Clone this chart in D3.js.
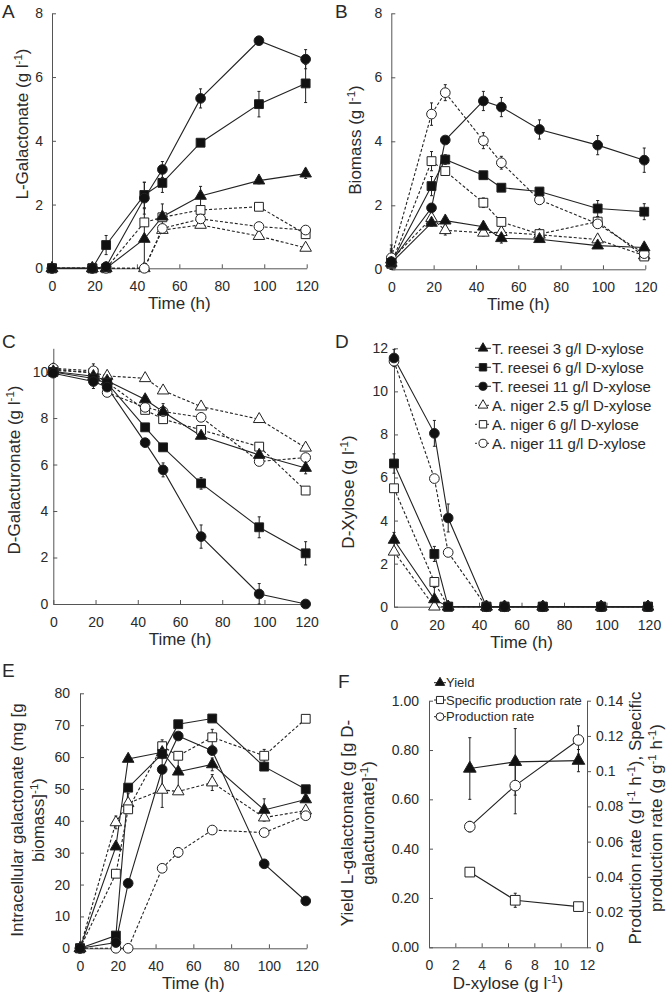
<!DOCTYPE html>
<html><head><meta charset="utf-8">
<script src="https://cdn.jsdelivr.net/npm/d3@7"></script>
<style>
body{margin:0;background:#fff}
text{font-family:"Liberation Sans",Arial,sans-serif;fill:#2a2a2a}
</style>
</head><body>
<svg id="chart" width="666" height="998"></svg>
<script>
// ---------- DATA ----------
const times = [0, 19, 25.5, 43.5, 52, 70, 97.5, 119.5];
const seriesKeys = ["T3", "T6", "T11", "A25", "A6", "A11"];
const seriesNames = ["T. reesei 3 g/l D-xylose", "T. reesei 6 g/l D-xylose", "T. reesei 11 g/l D-xylose",
                     "A. niger 2.5 g/l D-xylose", "A. niger 6 g/l D-xylose", "A. niger 11 g/l D-xylose"];
const timeTicks = [0, 20, 40, 60, 80, 100, 120];

// A: L-Galactonate (g/l)
const galactonateT3  = [0, 0, 0, 0.92, 1.62, 2.27, 2.75, 2.97];
const galactonateT6  = [0, 0, 0.73, 2.3, 2.68, 3.94, 5.15, 5.8];
const galactonateT11 = [0, 0, 0.05, 2.2, 3.1, 5.33, 7.14, 6.56];
const galactonateA25 = [0, 0, 0, 0, 1.2, 1.36, 1.01, 0.64];
const galactonateA6  = [0, 0, 0, 1.44, 1.6, 1.83, 1.93, 1.07];
const galactonateA11 = [0, 0, 0, 0, 1.25, 1.55, 1.31, 1.2];
const galactonateErrT3  = [0, 0, 0, 0.95, 0.4, 0.3, 0.1, 0.15];
const galactonateErrT6  = [0, 0, 0.3, 0.4, 0.3, 0.1, 0.4, 0.6];
const galactonateErrT11 = [0, 0, 0, 0.5, 0.25, 0.3, 0, 0.3];
const galactonateErrA25 = [0, 0, 0, 0, 0, 0, 0, 0];
const galactonateErrA6  = [0, 0, 0, 0, 0, 0, 0, 0];
const galactonateErrA11 = [0, 0, 0, 0, 0, 0, 0, 0];

// B: Biomass (g/l)
const biomassT3  = [0.2, 1.45, 1.52, 1.33, 0.97, 0.94, 0.74, 0.68];
const biomassT6  = [0.2, 2.6, 3.43, 2.94, 2.55, 2.43, 1.9, 1.8];
const biomassT11 = [0.24, 1.92, 4.04, 5.26, 5.07, 4.37, 3.88, 3.41];
const biomassA25 = [0.3, 1.6, 1.22, 1.14, 1.16, 1.08, 0.93, 0.43];
const biomassA6  = [0.17, 3.38, 3.07, 2.08, 1.48, 1.1, 1.49, 0.4];
const biomassA11 = [0.36, 4.85, 5.52, 4.02, 3.33, 2.17, 1.42, 0.49];
const biomassErrT3  = [0, 0.1, 0.1, 0.1, 0.15, 0, 0, 0];
const biomassErrT6  = [0, 0.3, 0.15, 0.1, 0.1, 0.1, 0.25, 0.25];
const biomassErrT11 = [0.4, 0.1, 0.1, 0.3, 0.3, 0.3, 0.3, 0.38];
const biomassErrA25 = [0.3, 0.15, 0.15, 0.1, 0.1, 0, 0.1, 0];
const biomassErrA6  = [0.4, 0.3, 0.1, 0.15, 0.1, 0, 0.1, 0];
const biomassErrA11 = [0.4, 0.35, 0.25, 0.25, 0.2, 0.1, 0.1, 0.1];

// C: D-Galacturonate (g/l)
const galacturonateT3  = [10.0, 9.8, 9.6, 8.8, 8.27, 7.23, 6.41, 5.85];
const galacturonateT6  = [9.98, 9.7, 9.5, 7.6, 6.74, 5.19, 3.3, 2.18];
const galacturonateT11 = [9.93, 9.57, 9.33, 6.94, 5.77, 2.9, 0.43, 0];
const galacturonateA25 = [10.1, 9.95, 9.81, 9.71, 9.18, 8.49, 7.95, 6.72];
const galacturonateA6  = [10.05, 9.95, 9.53, 8.35, 7.95, 7.49, 6.77, 4.88];
const galacturonateA11 = [10.14, 10.03, 9.1, 8.46, 8.28, 8.03, 6.13, 6.3];
const galacturonateErrT3  = [0, 0, 0, 0.15, 0.35, 0, 0, 0.25];
const galacturonateErrT6  = [0, 0, 0, 0, 0, 0.25, 0.45, 0.5];
const galacturonateErrT11 = [0, 0.3, 0, 0, 0.3, 0.5, 0.45, 0];
const galacturonateErrA25 = [0, 0, 0, 0, 0, 0, 0, 0];
const galacturonateErrA6  = [0, 0, 0, 0, 0, 0, 0, 0];
const galacturonateErrA11 = [0, 0.3, 0, 0, 0, 0, 0, 0];

// D: D-Xylose (g/l)
const xyloseT3  = [3.1, 0.34, 0, 0, 0, 0, 0, 0];
const xyloseT6  = [6.65, 2.45, 0, 0, 0, 0, 0, 0];
const xyloseT11 = [11.55, 8.05, 4.12, 0, 0, 0, 0, 0];
const xyloseA25 = [2.55, 0, 0, 0, 0, 0, 0, 0];
const xyloseA6  = [5.5, 1.15, 0, 0, 0, 0, 0, 0];
const xyloseA11 = [11.4, 5.95, 2.52, 0, 0, 0, 0, 0];
const xyloseErrT3  = [0.35, 0.55, 0, 0, 0, 0, 0, 0];
const xyloseErrT6  = [0.45, 0.35, 0, 0, 0, 0, 0, 0];
const xyloseErrT11 = [0.4, 0.6, 0.65, 0, 0, 0, 0, 0];
const xyloseErrA25 = [0, 0, 0, 0, 0, 0, 0, 0];
const xyloseErrA6  = [0, 0, 0, 0, 0, 0, 0, 0];
const xyloseErrA11 = [0.2, 0, 0, 0, 0, 0, 0, 0];

// E: Intracellular galactonate (mg/g biomass)
const intraT3  = [0, 31.9, 59.4, 61.5, 55.4, 57.7, 43.4, 46.7];
const intraT6  = [0, 4.0, 50.4, 61, 70.3, 72.1, 57, 49.9];
const intraT11 = [0, 1.8, 20.4, 56.1, 66.6, 62, 26.5, 14.85];
const intraA25 = [0, 39.5, 45.5, 49.7, 49.2, 52, 41, 43.2];
const intraA6  = [0, 23.4, 43.6, 63.4, 60.4, 66.2, 60.4, 72];
const intraA11 = [0, 0, 0, 25.1, 30.1, 37.1, 36.3, 41.6];
const intraErrT3  = [0, 0, 0, 2, 5.5, 2, 3.5, 0];
const intraErrT6  = [0, 0, 0, 0, 0, 0, 0, 0];
const intraErrT11 = [0, 0, 0, 5, 0, 0, 0, 0];
const intraErrA25 = [0, 2, 3, 5.5, 0, 2.5, 0, 0];
const intraErrA6  = [0, 0, 0, 2, 0, 2.5, 2, 0];
const intraErrA11 = [0, 0, 0, 0, 1.5, 0, 0, 0];

// F: yield and rates vs initial D-xylose
const xyloseInitial = [3.1, 6.55, 11.35];
const yieldVals = [0.725, 0.752, 0.757];
const yieldErr = [0.125, 0.135, 0.045];
const specRate = [0.0427, 0.0267, 0.0231];
const specRateErr = [0, 0.004, 0];
const prodRate = [0.0685, 0.0918, 0.1177];
const prodRateErr = [0.003, 0.016, 0.008];
const fXTicks = [0, 2, 4, 6, 8, 10, 12];
const fLeftTicks = [0, 0.2, 0.4, 0.6, 0.8, 1.0];
const fRightTicks = [0, 0.02, 0.04, 0.06, 0.08, 0.1, 0.12, 0.14];
const fRightLabels = ["0", "0.02", "0.04", "0.06", "0.08", "0.1", "0.12", "0.14"];
const fLegend = ["Yield", "Specific production rate", "Production rate"];

// ---------- DRAWING ----------
const svg = d3.select("#chart");
const INK = "#222", AX = "#555";
const FONT = "'Liberation Sans', Arial, sans-serif";
const shapeOf = {T3: d3.symbolTriangle, T6: d3.symbolSquare, T11: d3.symbolCircle,
                 A25: d3.symbolTriangle, A6: d3.symbolSquare, A11: d3.symbolCircle};
const sizeOf = {T3: 58, T6: 78, T11: 74, A25: 58, A6: 78, A11: 74};
const filled = k => k[0] === "T";

function rich(textSel, segs, fs) {
  segs.forEach((s, i) => {
    const prevSup = i > 0 && segs[i-1].sup;
    const t = textSel.append("tspan").text(s.t);
    if (s.sup) t.attr("font-size", fs * 0.68).attr("dy", -fs * 0.38);
    else if (prevSup) t.attr("dy", fs * 0.38);
  });
}

function drawMarker(g, key, x, y, scale) {
  g.append("path")
    .attr("d", d3.symbol().type(shapeOf[key]).size(sizeOf[key] * (scale || 1))())
    .attr("transform", `translate(${x},${y})`)
    .attr("fill", filled(key) ? "#111" : "#fff")
    .attr("stroke", INK).attr("stroke-width", 1);
}

function drawErr(g, x, y0, yTop, yBot) {
  g.append("line").attr("x1", x).attr("x2", x).attr("y1", yTop).attr("y2", yBot)
    .attr("stroke", INK).attr("stroke-width", 1);
  [yTop, yBot].forEach(yy => g.append("line").attr("x1", x - 1.5).attr("x2", x + 1.5)
    .attr("y1", yy).attr("y2", yy).attr("stroke", INK).attr("stroke-width", 1));
}

function styleAxis(ax) {
  ax.selectAll("path.domain").attr("stroke", AX).attr("stroke-width", 1);
  ax.selectAll(".tick line").attr("stroke", AX);
  ax.selectAll(".tick text").attr("font-size", 14).attr("fill", "#2a2a2a").attr("font-family", FONT);
}

function panel(o) {
  const g = svg.append("g");
  const x = d3.scaleLinear().domain([0, 120]).range([o.px0, o.px1]);
  const y = d3.scaleLinear().domain(o.yDomain).range([o.py0, o.py1]);
  const ay = g.append("g").attr("transform", `translate(${o.px0},0)`)
    .call(d3.axisLeft(y).tickValues(o.yTicks).tickSize(-4).tickSizeOuter(0).tickPadding(o.yPad || 8));
  const ax = g.append("g").attr("transform", `translate(0,${o.py0})`)
    .call(d3.axisBottom(x).tickValues(timeTicks).tickSize(-4).tickSizeOuter(0).tickPadding(13));
  styleAxis(ay); styleAxis(ax);
  g.append("text").attr("x", o.letter[1]).attr("y", o.letter[2]).attr("font-size", 19).text(o.letter[0]);
  o.yTitle.forEach((segs, i) => {
    const t = g.append("text").attr("font-size", 17).attr("text-anchor", "middle")
      .attr("transform", `translate(${o.yTitleX[i]},${o.yTitleY}) rotate(-90)`);
    rich(t, segs, 17);
  });
  g.append("text").attr("x", (o.px0 + o.px1) / 2).attr("y", o.py0 + 41)
    .attr("text-anchor", "middle").attr("font-size", 17).text("Time (h)");
  const order = ["A25", "A6", "A11", "T3", "T6", "T11"];
  const line = d3.line().x((d, i) => x(times[i])).y(d => y(d));
  order.forEach(k => {
    g.append("path").datum(o.vals[k]).attr("d", line).attr("fill", "none")
      .attr("stroke", INK).attr("stroke-width", 1.1)
      .attr("stroke-dasharray", filled(k) ? null : "3,2");
  });
  order.forEach(k => {
    o.vals[k].forEach((v, i) => {
      const e = o.errs[k][i];
      if (e > 0) drawErr(g, x(times[i]), y(v), y(v + e), y(Math.max(o.yDomain[0], v - e)));
    });
  });
  order.forEach(k => {
    o.vals[k].forEach((v, i) => drawMarker(g, k, x(times[i]), y(v)));
  });
  return g;
}

const sup = t => ({t, sup: true});
const n = t => ({t});

panel({px0: 52, px1: 306.7, py0: 268.3, py1: 13.3, yDomain: [0, 8], yTicks: [0, 2, 4, 6, 8], yPad: 9,
  letter: ["A", 2, 18], yTitle: [[n("L-Galactonate (g l"), sup("-1"), n(")")]], yTitleX: [28], yTitleY: 124,
  vals: {T3: galactonateT3, T6: galactonateT6, T11: galactonateT11, A25: galactonateA25, A6: galactonateA6, A11: galactonateA11},
  errs: {T3: galactonateErrT3, T6: galactonateErrT6, T11: galactonateErrT11, A25: galactonateErrA25, A6: galactonateErrA6, A11: galactonateErrA11}});

panel({px0: 391.3, px1: 645.3, py0: 269.3, py1: 13.3, yDomain: [0, 8], yTicks: [0, 2, 4, 6, 8], yPad: 9,
  letter: ["B", 335, 18], yTitle: [[n("Biomass (g l"), sup("-1"), n(")")]], yTitleX: [361], yTitleY: 140,
  vals: {T3: biomassT3, T6: biomassT6, T11: biomassT11, A25: biomassA25, A6: biomassA6, A11: biomassA11},
  errs: {T3: biomassErrT3, T6: biomassErrT6, T11: biomassErrT11, A25: biomassErrA25, A6: biomassErrA6, A11: biomassErrA11}});

panel({px0: 53.3, px1: 306.7, py0: 604, py1: 348.3, yDomain: [0, 11], yTicks: [0, 2, 4, 6, 8, 10], yPad: 5,
  letter: ["C", 2, 348], yTitle: [[n("D-Galacturonate (g l"), sup("-1"), n(")")]], yTitleX: [20], yTitleY: 470,
  vals: {T3: galacturonateT3, T6: galacturonateT6, T11: galacturonateT11, A25: galacturonateA25, A6: galacturonateA6, A11: galacturonateA11},
  errs: {T3: galacturonateErrT3, T6: galacturonateErrT6, T11: galacturonateErrT11, A25: galacturonateErrA25, A6: galacturonateErrA6, A11: galacturonateErrA11}});

panel({px0: 394, px1: 649, py0: 606.7, py1: 348.3, yDomain: [0, 12], yTicks: [0, 2, 4, 6, 8, 10, 12], yPad: 6,
  letter: ["D", 335, 348], yTitle: [[n("D-Xylose (g l"), sup("-1"), n(")")]], yTitleX: [354], yTitleY: 492,
  vals: {T3: xyloseT3, T6: xyloseT6, T11: xyloseT11, A25: xyloseA25, A6: xyloseA6, A11: xyloseA11},
  errs: {T3: xyloseErrT3, T6: xyloseErrT6, T11: xyloseErrT11, A25: xyloseErrA25, A6: xyloseErrA6, A11: xyloseErrA11}});

panel({px0: 80, px1: 306.7, py0: 948.3, py1: 693.3, yDomain: [0, 80], yTicks: [0, 10, 20, 30, 40, 50, 60, 70, 80], yPad: 10,
  letter: ["E", 2, 677], yTitle: [[n("Intracellular galactonate (mg [g")], [n("biomass]"), sup("-1"), n(")")]],
  yTitleX: [23, 44], yTitleY: 820,
  vals: {T3: intraT3, T6: intraT6, T11: intraT11, A25: intraA25, A6: intraA6, A11: intraA11},
  errs: {T3: intraErrT3, T6: intraErrT6, T11: intraErrT11, A25: intraErrA25, A6: intraErrA6, A11: intraErrA11}});

// legend in D
const legD = svg.append("g");
seriesKeys.forEach((k, i) => {
  const yy = 348.3 + i * 19;
  legD.append("line").attr("x1", 475).attr("x2", 491).attr("y1", yy).attr("y2", yy)
    .attr("stroke", INK).attr("stroke-width", 1).attr("stroke-dasharray", filled(k) ? null : "2,2");
  drawMarker(legD, k, 483, yy, 0.7);
  legD.append("text").attr("x", 492).attr("y", yy).attr("dy", "0.36em").attr("font-size", 15).text(seriesNames[i]);
});

// ---------- Panel F ----------
(function () {
  const g = svg.append("g");
  const x = d3.scaleLinear().domain([0, 12]).range([429, 587]);
  const yl = d3.scaleLinear().domain([0, 1]).range([947.3, 700.7]);
  const yr = d3.scaleLinear().domain([0, 0.14]).range([947.3, 700.7]);
  const ay = g.append("g").attr("transform", "translate(429,0)")
    .call(d3.axisLeft(yl).tickValues(fLeftTicks).tickSize(-4).tickSizeOuter(0).tickPadding(10).tickFormat(d3.format(".2f")));
  const ar = g.append("g").attr("transform", "translate(587,0)")
    .call(d3.axisRight(yr).tickValues(fRightTicks).tickSize(4).tickSizeOuter(0).tickPadding(5)
      .tickFormat((d, i) => fRightLabels[i]));
  const ax = g.append("g").attr("transform", "translate(0,947.3)")
    .call(d3.axisBottom(x).tickValues(fXTicks).tickSize(-4).tickSizeOuter(0).tickPadding(13));
  styleAxis(ay); styleAxis(ar); styleAxis(ax);
  g.append("text").attr("x", 338).attr("y", 688).attr("font-size", 19).text("F");
  const lt = [[n("Yield L-galactonate (g [g D-")], [n("galacturonate]"), sup("-1"), n(")")]];
  [353, 374].forEach((xx, i) => {
    const t = g.append("text").attr("font-size", 17).attr("text-anchor", "middle")
      .attr("transform", `translate(${xx},823) rotate(-90)`);
    rich(t, lt[i], 17);
  });
  const rt = [[n("Production rate (g l"), sup("-1"), n(" h"), sup("-1"), n("), Specific")],
              [n("production rate (g g"), sup("-1"), n(" h"), sup("-1"), n(")")]];
  [641, 662].forEach((xx, i) => {
    const t = g.append("text").attr("font-size", 17).attr("text-anchor", "middle")
      .attr("transform", `translate(${xx},818) rotate(-90)`);
    rich(t, rt[i], 17);
  });
  const xt = g.append("text").attr("x", 508).attr("y", 989).attr("text-anchor", "middle").attr("font-size", 17);
  rich(xt, [n("D-xylose (g l"), sup("-1"), n(")")], 17);

  const lineL = d3.line().x((d, i) => x(xyloseInitial[i])).y(d => yl(d));
  const lineR = d3.line().x((d, i) => x(xyloseInitial[i])).y(d => yr(d));
  const sets = [
    {key: "T3", vals: yieldVals, errs: yieldErr, sc: yl, ln: lineL},
    {key: "A6", vals: specRate, errs: specRateErr, sc: yr, ln: lineR},
    {key: "A11", vals: prodRate, errs: prodRateErr, sc: yr, ln: lineR}
  ];
  sets.forEach(s => g.append("path").datum(s.vals).attr("d", s.ln).attr("fill", "none")
    .attr("stroke", INK).attr("stroke-width", 1.1));
  sets.forEach(s => s.vals.forEach((v, i) => {
    if (s.errs[i] > 0) drawErr(g, x(xyloseInitial[i]), s.sc(v), s.sc(v + s.errs[i]), s.sc(v - s.errs[i]));
  }));
  sets.forEach(s => s.vals.forEach((v, i) => drawMarker(g, s.key, x(xyloseInitial[i]), s.sc(v), 1.2)));
  const legY = [682.7, 700, 716.7];
  sets.forEach((s, i) => {
    g.append("line").attr("x1", 434).attr("x2", 446).attr("y1", legY[i]).attr("y2", legY[i])
      .attr("stroke", INK).attr("stroke-width", 1);
    drawMarker(g, s.key, 440, legY[i], 0.65);
    g.append("text").attr("x", 446).attr("y", legY[i]).attr("dy", "0.36em").attr("font-size", 13).text(fLegend[i]);
  });
})();
</script>
</body></html>
